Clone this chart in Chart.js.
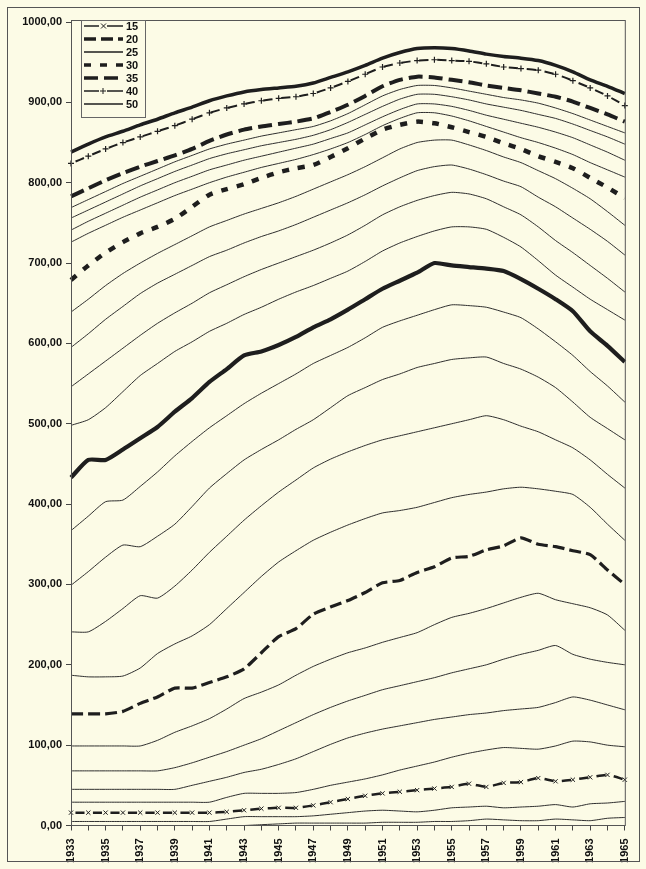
<!DOCTYPE html>
<html>
<head>
<meta charset="utf-8">
<script src="https://cdn.jsdelivr.net/npm/chart.js@4.4.1/dist/chart.umd.min.js"></script>
<style>
    html, body { margin: 0; padding: 0; background: #fcfbe6; }
    #wrap { position: relative; width: 646px; height: 869px; }
</style>
</head>
<body>
<div id="wrap"><canvas id="chart" width="646" height="869"></canvas></div>
<script>
const years = [1933, 1934, 1935, 1936, 1937, 1938, 1939, 1940, 1941, 1942, 1943, 1944, 1945, 1946, 1947, 1948, 1949,
    1950, 1951, 1952, 1953, 1954, 1955, 1956, 1957, 1958, 1959, 1960, 1961, 1962, 1963, 1964, 1965];

const yTicks = [0, 100, 200, 300, 400, 500, 600, 700, 800, 900, 1000];

// cumulative values by age, one list per age line
const age13 = [0, 0, 0, 0, 0, 0, 0, 0, 0, 0, 0, 1, 2, 3, 3, 3, 3, 3, 4, 4, 4, 5, 5, 6, 8, 7, 6, 6, 8, 7, 6, 9, 10];
const age14 = [5, 5, 5, 5, 5, 5, 5, 5, 5, 8, 11, 11, 11, 11, 12, 14, 16, 18, 19, 18, 17, 19, 22, 23, 24, 22, 23, 24, 26, 23, 27, 28, 30];
const age15 = [16, 16, 16, 16, 16, 16, 16, 16, 16, 17, 19, 21, 22, 22, 25, 29, 33, 37, 40, 42, 44, 46, 48, 52, 48, 53, 54, 59, 55, 57, 60, 63, 57];
const age16 = [29, 29, 29, 29, 29, 29, 29, 29, 29, 35, 40, 40, 40, 41, 45, 50, 54, 58, 63, 69, 74, 79, 85, 90, 94, 97, 96, 95, 99, 105, 104, 100, 98];
const age17 = [45, 45, 45, 45, 45, 45, 45, 50, 55, 60, 66, 70, 76, 83, 92, 101, 109, 115, 120, 124, 128, 132, 135, 138, 140, 143, 145, 147, 153, 160, 156, 150, 144];
const age18 = [68, 68, 68, 68, 68, 68, 72, 78, 85, 92, 100, 108, 118, 128, 138, 147, 155, 162, 169, 174, 179, 184, 190, 195, 200, 207, 213, 218, 224, 213, 207, 203, 200];
const age19 = [99, 99, 99, 99, 99, 106, 116, 124, 133, 145, 158, 166, 175, 187, 198, 207, 215, 221, 228, 234, 240, 250, 259, 264, 270, 277, 284, 289, 281, 276, 271, 262, 243];
const age20 = [139, 139, 139, 142, 152, 160, 171, 171, 178, 185, 195, 215, 235, 245, 263, 272, 280, 290, 302, 305, 315, 322, 333, 335, 343, 348, 358, 350, 347, 342, 337, 318, 300];
const age21 = [187, 185, 185, 186, 196, 214, 226, 236, 250, 270, 290, 310, 328, 342, 355, 365, 374, 382, 389, 392, 396, 402, 408, 412, 415, 419, 421, 419, 416, 412, 396, 375, 355];
const age22 = [241, 241, 254, 270, 286, 283, 298, 318, 340, 360, 380, 398, 415, 430, 445, 456, 465, 473, 480, 485, 490, 495, 500, 505, 510, 505, 497, 490, 480, 470, 455, 437, 420];
const age23 = [299, 316, 334, 349, 347, 360, 375, 397, 420, 438, 455, 468, 480, 493, 505, 520, 535, 545, 555, 562, 570, 575, 580, 582, 583, 575, 568, 558, 545, 527, 508, 494, 480];
const age24 = [367, 385, 403, 405, 422, 440, 460, 478, 495, 510, 525, 538, 550, 562, 575, 585, 595, 607, 620, 628, 635, 642, 648, 647, 645, 639, 632, 618, 602, 585, 565, 547, 527];
const age25 = [433, 455, 455, 468, 482, 496, 515, 532, 552, 568, 585, 590, 598, 608, 620, 630, 642, 655, 668, 678, 688, 700, 697, 695, 693, 690, 680, 668, 655, 640, 615, 597, 577];
const age26 = [498, 505, 520, 540, 560, 575, 590, 602, 615, 625, 636, 645, 655, 664, 672, 681, 690, 702, 715, 725, 733, 740, 745, 745, 742, 732, 720, 703, 685, 670, 655, 642, 629];
const age27 = [546, 562, 578, 594, 610, 625, 638, 650, 663, 673, 683, 692, 700, 708, 716, 725, 735, 747, 760, 770, 778, 784, 788, 786, 780, 770, 760, 745, 728, 713, 697, 681, 664];
const age28 = [595, 612, 630, 646, 662, 675, 686, 697, 708, 716, 725, 733, 740, 748, 757, 766, 775, 785, 796, 806, 815, 820, 822, 817, 810, 802, 795, 782, 770, 756, 742, 727, 710];
const age29 = [639, 655, 672, 687, 700, 712, 723, 734, 745, 753, 761, 768, 775, 783, 792, 801, 810, 820, 831, 842, 850, 853, 853, 847, 840, 832, 825, 815, 805, 793, 780, 764, 747];
const age30 = [679, 697, 713, 726, 737, 745, 755, 770, 785, 792, 798, 806, 813, 818, 822, 832, 843, 855, 866, 872, 876, 874, 869, 863, 857, 849, 842, 833, 826, 818, 806, 794, 781];
const age31 = [726, 737, 747, 757, 766, 775, 784, 792, 800, 807, 813, 819, 824, 829, 835, 842, 850, 860, 871, 880, 887, 887, 883, 877, 870, 863, 856, 850, 843, 835, 825, 816, 807];
const age32 = [741, 752, 762, 772, 782, 791, 800, 808, 816, 822, 828, 833, 838, 843, 848, 855, 862, 872, 882, 891, 898, 898, 895, 890, 884, 879, 874, 869, 863, 856, 847, 838, 828];
const age33 = [756, 766, 776, 786, 796, 805, 814, 822, 830, 836, 841, 846, 850, 854, 859, 866, 875, 885, 895, 904, 910, 910, 907, 903, 898, 894, 890, 885, 880, 873, 865, 857, 848];
const age34 = [769, 779, 789, 799, 808, 817, 826, 834, 842, 848, 853, 858, 862, 866, 870, 877, 886, 897, 908, 916, 921, 921, 918, 914, 910, 906, 903, 899, 893, 886, 878, 870, 862];
const age35 = [783, 793, 803, 812, 820, 827, 834, 842, 852, 860, 866, 870, 873, 876, 880, 888, 897, 908, 920, 928, 932, 931, 928, 925, 921, 918, 915, 911, 907, 901, 893, 885, 876];
const age40 = [824, 833, 842, 850, 857, 864, 871, 879, 887, 893, 898, 902, 905, 907, 911, 918, 926, 935, 944, 949, 952, 953, 952, 951, 948, 944, 942, 940, 935, 927, 918, 908, 896];
const age50 = [838, 848, 857, 864, 872, 879, 887, 894, 902, 908, 913, 916, 918, 920, 924, 931, 938, 946, 955, 962, 967, 968, 967, 964, 960, 957, 955, 952, 946, 938, 928, 920, 911];

const legendAges = ['15', '20', '25', '30', '35', '40', '50'];

const ink = '#1e1e1e';
const bg = '#fcfbe6';

function makeLine(label, data, extra) {
    return Object.assign({
        label: label,
        data: data,
        borderColor: '#2e2e2e',
        borderWidth: 1,
        pointRadius: 0,
        tension: 0.2,
        fill: false
    }, extra || {});
}

// highlighted lines first so they are painted on top
const datasets = [
    makeLine('50', age50, { borderColor: ink, borderWidth: 3.5 }),
    makeLine('40', age40, { borderColor: ink, borderWidth: 2, borderDash: [9, 9], borderDashOffset: 13,
        pointStyle: 'cross', pointRadius: 3, pointBorderWidth: 1.2, pointBorderColor: ink }),
    makeLine('35', age35, { borderColor: ink, borderWidth: 4, borderDash: [14, 6] }),
    makeLine('30', age30, { borderColor: ink, borderWidth: 4.5, borderDash: [7, 9] }),
    makeLine('25', age25, { borderColor: ink, borderWidth: 4.2 }),
    makeLine('20', age20, { borderColor: ink, borderWidth: 3.2, borderDash: [12, 5] }),
    makeLine('15', age15, { borderColor: ink, borderWidth: 2.5, borderDash: [9, 8.5], borderDashOffset: 13,
        pointStyle: 'crossRot', pointRadius: 3, pointBorderWidth: 1, pointBorderColor: ink }),
    makeLine('34', age34), makeLine('33', age33), makeLine('32', age32), makeLine('31', age31),
    makeLine('29', age29), makeLine('28', age28), makeLine('27', age27), makeLine('26', age26),
    makeLine('24', age24), makeLine('23', age23), makeLine('22', age22), makeLine('21', age21),
    makeLine('19', age19), makeLine('18', age18), makeLine('17', age17), makeLine('16', age16),
    makeLine('14', age14), makeLine('13', age13)
];

const framePlugin = {
    id: 'frame',
    beforeDraw(chart) {
        const c = chart.ctx;
        c.save();
        c.fillStyle = bg;
        c.fillRect(0, 0, chart.width, chart.height);
        c.restore();
    },
    afterDraw(chart) {
        const c = chart.ctx;
        const a = chart.chartArea;
        c.save();
        c.strokeStyle = '#555';
        c.lineWidth = 1;
        c.strokeRect(a.left + 0.5, a.top - 1.5, a.right - a.left, a.bottom - a.top + 1.5);
        c.strokeRect(7.5, 7.5, 632, 854);

        // legend box in the top-left corner of the plot
        const bx = a.left + 10, by = a.top - 2, bw = 64, bh = 97;
        c.fillStyle = bg;
        c.fillRect(bx, by, bw, bh);
        c.strokeStyle = '#666';
        c.strokeRect(bx + 0.5, by + 0.5, bw, bh);
        c.font = 'bold 11px "Liberation Sans", Arial, sans-serif';
        c.textBaseline = 'middle';
        legendAges.forEach((age, i) => {
            const ds = chart.data.datasets.find(d => d.label === age);
            const y = by + 6 + i * 13;
            const dashed = ds.borderDash && !ds.pointStyle;
            c.strokeStyle = ds.borderColor;
            c.lineWidth = dashed ? 3.5 : 1.3;
            c.setLineDash(dashed ? ds.borderDash : []);
            c.lineDashOffset = 0;
            c.beginPath();
            c.moveTo(bx + 3, y);
            c.lineTo(bx + 42, y);
            c.stroke();
            c.setLineDash([]);
            if (ds.pointStyle) {
                c.fillStyle = bg;
                c.fillRect(bx + 18, y - 3, 8, 6);
                c.lineWidth = 1;
                c.beginPath();
                if (ds.pointStyle === 'cross') {
                    c.moveTo(bx + 19, y); c.lineTo(bx + 25, y);
                    c.moveTo(bx + 22, y - 3); c.lineTo(bx + 22, y + 3);
                } else {
                    c.moveTo(bx + 20, y - 2.5); c.lineTo(bx + 25, y + 2.5);
                    c.moveTo(bx + 25, y - 2.5); c.lineTo(bx + 20, y + 2.5);
                }
                c.stroke();
            }
            c.fillStyle = '#111';
            c.fillText(age, bx + 45, y + 1);
        });
        c.restore();
    }
};

const ctx = document.querySelector('#chart').getContext('2d');
new Chart(ctx, {
    type: 'line',
    data: {
        labels: years.map(String),
        datasets: datasets
    },
    options: {
        responsive: false,
        animation: false,
        devicePixelRatio: 1,
        layout: { padding: { left: 0, right: 14, top: 22, bottom: 0 } },
        plugins: {
            legend: { display: false },
            tooltip: { enabled: false }
        },
        scales: {
            x: {
                grid: { drawOnChartArea: false, color: '#444', tickLength: 5 },
                border: { color: '#444' },
                ticks: {
                    autoSkip: false,
                    minRotation: 90,
                    maxRotation: 90,
                    padding: 8,
                    color: '#111',
                    font: { family: '"Liberation Sans", Arial, sans-serif', size: 11, weight: 'bold' },
                    callback: (value, index) => index % 2 === 0 ? years[index] : ''
                },
                afterFit: scale => { scale.height = 43.5; }
            },
            y: {
                min: yTicks[0],
                max: yTicks[yTicks.length - 1],
                afterBuildTicks: scale => { scale.ticks = yTicks.map(v => ({ value: v })); },
                grid: { drawOnChartArea: false, color: '#444', tickLength: 5 },
                border: { color: '#444' },
                ticks: {
                    padding: 4,
                    color: '#111',
                    font: { family: '"Liberation Sans", Arial, sans-serif', size: 11, weight: 'bold' },
                    callback: value => value.toFixed(2).replace('.', ',')
                },
                afterFit: scale => { scale.width = 71; }
            }
        }
    },
    plugins: [framePlugin]
});
</script>
</body>
</html>
